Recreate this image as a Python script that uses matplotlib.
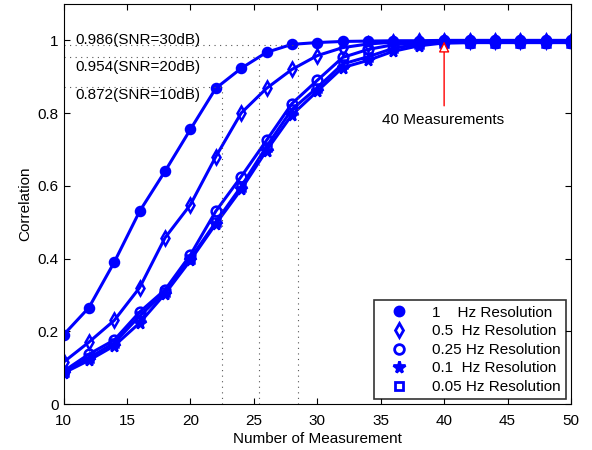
import numpy as np
import matplotlib
matplotlib.use("Agg")
import matplotlib.pyplot as plt
from matplotlib.lines import Line2D

plt.rcParams['font.family'] = ['Liberation Sans', 'DejaVu Sans']

# number of measurements
meas = [10, 12, 14, 16, 18, 20, 22, 24, 26, 28, 30, 32, 34, 36, 38, 40, 42, 44, 46, 48, 50]

corr_1hz = [0.19, 0.265, 0.39, 0.53, 0.64, 0.755, 0.868, 0.923, 0.967, 0.989, 0.994, 0.997,
            0.998, 0.999, 0.999, 1.0, 1.0, 1.0, 1.0, 1.0, 1.0]
corr_05hz = [0.115, 0.17, 0.23, 0.32, 0.457, 0.548, 0.68, 0.80, 0.868, 0.92, 0.958, 0.98,
             0.99, 0.995, 0.997, 0.998, 0.998, 0.998, 0.998, 0.998, 0.998]
corr_025hz = [0.09, 0.137, 0.176, 0.253, 0.314, 0.41, 0.53, 0.625, 0.725, 0.826, 0.89, 0.953,
              0.975, 0.988, 0.993, 0.995, 0.995, 0.995, 0.995, 0.995, 0.995]
corr_01hz = [0.085, 0.12, 0.16, 0.223, 0.303, 0.395, 0.495, 0.59, 0.697, 0.795, 0.86, 0.925,
             0.945, 0.97, 0.985, 0.993, 0.994, 0.994, 0.994, 0.994, 0.994]
corr_005hz = [0.088, 0.127, 0.168, 0.242, 0.308, 0.40, 0.50, 0.598, 0.708, 0.81, 0.87, 0.935,
              0.955, 0.978, 0.99, 0.993, 0.994, 0.994, 0.994, 0.994, 0.994]

series = [corr_1hz, corr_05hz, corr_025hz, corr_01hz, corr_005hz]
labels = ['1    Hz Resolution', '0.5  Hz Resolution', '0.25 Hz Resolution',
          '0.1  Hz Resolution', '0.05 Hz Resolution']
markers = ['o', 'd', 'o', '*', 's']
fills = ['full', 'none', 'none', 'full', 'none']
msizes = [6.5, 7, 7, 8.5, 6]

# reference points (correlation, crossing measurement, label)
ref_corr = [0.986, 0.954, 0.872]
ref_meas = [28.5, 25.4, 22.5]
ref_text = ['0.986(SNR=30dB)', '0.954(SNR=20dB)', '0.872(SNR=10dB)']
ref_text_y = [1.0, 0.928, 0.851]

blue = '#0000ff'
fsize = 11

fig = plt.figure(figsize=(5.92, 4.5), dpi=100)
ax = fig.add_axes([63.5 / 592, 46 / 450, (571 - 63.5) / 592, 400 / 450])

for ys, lab, mk, fs, ms in zip(series, labels, markers, fills, msizes):
    ax.plot(meas, ys, color=blue, lw=2.2, marker=mk, ms=ms, fillstyle=fs,
            mew=1.8, markerfacecolor=blue if fs == 'full' else 'none', label=lab)

for c, m, t, ty in zip(ref_corr, ref_meas, ref_text, ref_text_y):
    ax.plot([10, m], [c, c], ls=(0, (1, 4)), color='#555555', lw=0.8)
    ax.plot([m, m], [0, c], ls=(0, (1, 4)), color='#555555', lw=0.8)
    ax.text(10.9, ty, t, fontsize=fsize, va='center', ha='left')

ax.annotate('', xy=(40, 0.997), xytext=(40, 0.82),
            arrowprops=dict(arrowstyle='-|>', color='red', lw=1, fc='white',
                            shrinkA=0, shrinkB=0, mutation_scale=16))
ax.text(39.9, 0.782, '40 Measurements', ha='center', va='center', fontsize=fsize)

ax.set_xlim(10, 50)
ax.set_ylim(0, 1.1)
ax.set_xticks(np.arange(10, 51, 5))
ax.set_yticks([0, 0.2, 0.4, 0.6, 0.8, 1.0])
ax.set_yticklabels(['0', '0.2', '0.4', '0.6', '0.8', '1'])
ax.tick_params(direction='in', top=True, right=True, labelsize=fsize, length=4)
ax.tick_params(axis='x', pad=7)
ax.set_xlabel('Number of Measurement', fontsize=fsize, labelpad=3)
ax.set_ylabel('Correlation', fontsize=fsize)

handles = [Line2D([], [], color=blue, marker=mk, ls='none', ms=ms, mew=2,
                  markerfacecolor=blue if fs == 'full' else 'none')
           for mk, fs, ms in zip(markers, fills, msizes)]
leg = ax.legend(handles, labels, loc='lower right', fontsize=fsize, frameon=True,
                fancybox=False, edgecolor='black', handlelength=2.6,
                handletextpad=0.9, labelspacing=0.3, borderpad=0.35,
                borderaxespad=0.3)
leg.get_frame().set_linewidth(1.2)

fig.savefig('out.png', dpi=100)
